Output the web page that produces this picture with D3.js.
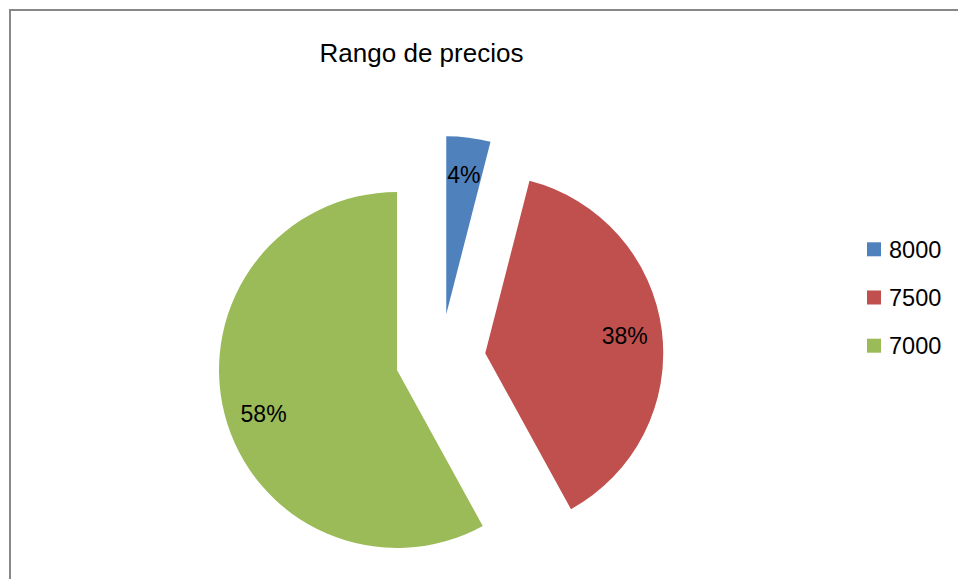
<!DOCTYPE html>
<html>
<head>
<meta charset="utf-8">
<script src="https://cdn.jsdelivr.net/npm/d3@7"></script>
<style>
  body { margin: 0; background: #fff; }
  text { font-family: "Liberation Sans", "DejaVu Sans", sans-serif; }
</style>
</head>
<body>
<div id="main"></div>
<script>
const categories = ['8000', '7500', '7000'];
const values = [4, 38, 58];
const colors = ['#4F81BD', '#C0504D', '#9BBB59'];
const title = 'Rango de precios';

let width = 958;
let height = 579;
let svg = d3.select('#main').append('svg')
  .attr('width', width).attr('height', height);

// chart frame, only left and top visible in window
svg.append('rect')
  .attr('x', 10).attr('y', 10)
  .attr('width', 1000).attr('height', 700)
  .attr('fill', 'none').attr('stroke', '#888').attr('stroke-width', 2);

svg.append('text')
  .attr('x', 421.5).attr('y', 62)
  .attr('text-anchor', 'middle')
  .attr('font-size', 26)
  .text(title);

let cx = 440.6, cy = 358.8;
let r = 178;
let explode = 45;

let pie = d3.pie().sort(null).value(d => d);
let arc = d3.arc().innerRadius(0).outerRadius(r);
let arcs = pie(values);
let total = d3.sum(values);

let g = svg.append('g').attr('transform', `translate(${cx},${cy})`);

arcs.forEach(function(a, i) {
  let mid = (a.startAngle + a.endAngle) / 2;
  let dx = explode * Math.sin(mid), dy = -explode * Math.cos(mid);
  let sg = g.append('g').attr('transform', `translate(${dx},${dy})`);
  sg.append('path').attr('d', arc(a)).attr('fill', colors[i]);
  let lr = r * 0.79;
  let la = mid - (i == 2 ? 0.07 : 0); // label nudged like Excel best fit
  sg.append('text')
    .attr('x', lr * Math.sin(la))
    .attr('y', -lr * Math.cos(la))
    .attr('dy', '0.35em')
    .attr('text-anchor', 'middle')
    .attr('font-size', 23)
    .text(Math.round(a.data / total * 100) + '%');
});

// legend
let legend = svg.append('g');
categories.forEach(function(c, i) {
  let y = 249.3 + i * 48.2;
  legend.append('rect')
    .attr('x', 867).attr('y', y - 7)
    .attr('width', 14).attr('height', 14)
    .attr('fill', colors[i]);
  legend.append('text')
    .attr('x', 889).attr('y', y)
    .attr('dy', '0.35em')
    .attr('font-size', 23.5)
    .text(c);
});
</script>
</body>
</html>
